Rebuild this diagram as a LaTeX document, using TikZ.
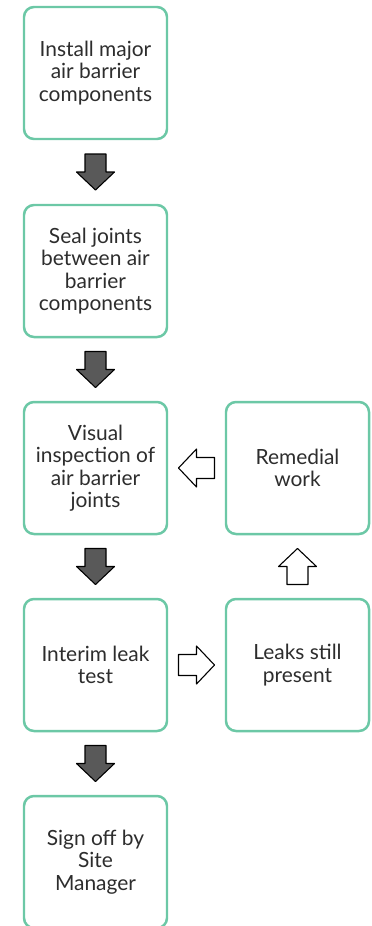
\documentclass[tikz,border=0pt]{standalone}
\usepackage{fontspec}
\setmainfont{Lato}
\usetikzlibrary{positioning,calc}
\definecolor{boxgreen}{RGB}{108,200,166}
\definecolor{arrowgrey}{RGB}{89,89,89}
\definecolor{textgrey}{RGB}{45,45,45}

\tikzset{
  stepbox/.style={draw=boxgreen,line width=2.5pt,rounded corners=10pt,fill=white,
                  minimum width=143bp,minimum height=132bp,align=center,
                  text=textgrey,font=\fontsize{21}{22.5}\selectfont},
  darkarrow/.style={fill=arrowgrey,draw=black,line width=1.1pt,line join=round},
  openarrow/.style={fill=white,draw=black,line width=1.1pt,line join=round},
  blockarrow/.pic={
    \path[pic actions] (-18,-10.5) -- (0,-10.5) -- (0,-19) -- (18,0)
                       -- (0,19) -- (0,10.5) -- (-18,10.5) -- cycle;
  }
}

\begin{document}
\begin{tikzpicture}[x=1bp,y=1bp]
  \useasboundingbox (0,0) rectangle (371,-926);
  % main column
  \node[stepbox] (install) at (95.5,-73)  {Install major\\air barrier\\components};
  \node[stepbox] (seal)    at (95.5,-271) {Seal joints\\between air\\barrier\\components};
  \node[stepbox] (visual)  at (95.5,-468) {Visual\\inspection of\\air barrier\\joints};
  \node[stepbox] (interim) at (95.5,-665) {Interim leak\\test};
  \node[stepbox] (signoff) at (95.5,-862) {Sign off by\\Site\\Manager};
  % loop on the right
  \node[stepbox] (remedial) at (297.5,-468) {Remedial\\work};
  \node[stepbox] (leaks)    at (297.5,-665) {Leaks still\\present};
  % down arrows
  \foreach \a/\b in {install/seal,seal/visual,visual/interim,interim/signoff}{
    \pic[darkarrow,rotate=-90] at ($(\a.south)!0.5!(\b.north)$) {blockarrow};
  }
  % open arrows
  \pic[openarrow] at ($(interim.east)!0.5!(leaks.west)$) {blockarrow};
  \pic[openarrow,rotate=90] at ($(leaks.north)!0.5!(remedial.south)$) {blockarrow};
  \pic[openarrow,rotate=180] at ($(remedial.west)!0.5!(visual.east)$) {blockarrow};
\end{tikzpicture}
\end{document}
